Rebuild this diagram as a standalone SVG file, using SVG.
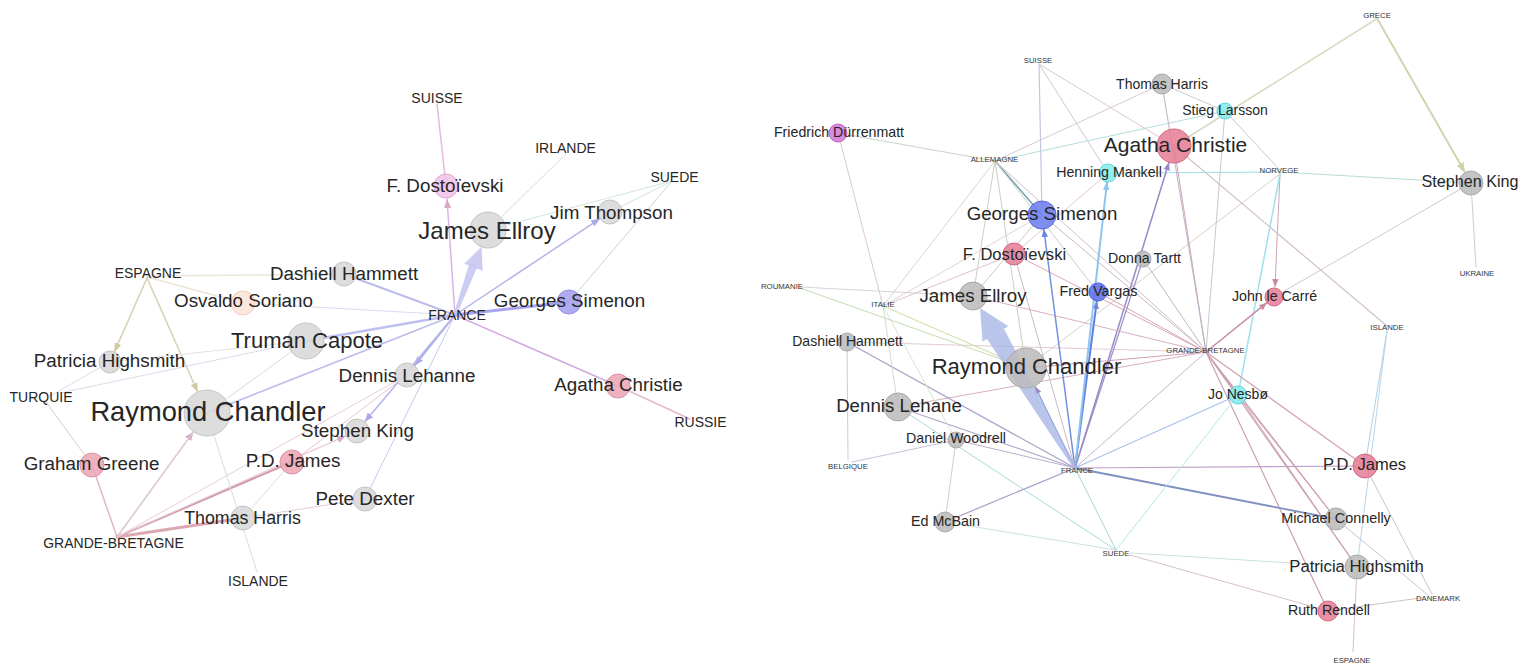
<svg xmlns="http://www.w3.org/2000/svg" width="1536" height="666" viewBox="0 0 1536 666">
<style>
text{font-family:"Liberation Sans",Arial,sans-serif;fill:#262626;text-anchor:middle;dominant-baseline:central}
.c1{font-size:14px}
.c2{font-size:7.8px;fill:#333}
.l19{font-size:18.8px}
.e line{fill:none;stroke-linecap:round}
.g1{fill:#d9d9d9;stroke:#c4c4c4;stroke-width:1;fill-opacity:.9}
.g2{fill:#bcbcbc;stroke:#a9a9a9;stroke-width:1;fill-opacity:.88}
.pk1{fill:#eca9b6;stroke:#dc94a4;fill-opacity:.9}
.pk2{fill:#e57f97;stroke:#cf6a82;fill-opacity:.88}
.cy{fill:#86ecec;stroke:#5fd6e0;fill-opacity:.88}
</style>
<defs>
<marker id="mLav" viewBox="0 0 10 10" refX="10" refY="5" markerWidth="9" markerHeight="9" markerUnits="userSpaceOnUse" orient="auto"><path d="M0,1 L10,5 L0,9 z" fill="#aaaaea"/></marker>
<marker id="mPink" viewBox="0 0 10 10" refX="10" refY="5" markerWidth="9" markerHeight="9" markerUnits="userSpaceOnUse" orient="auto"><path d="M0,1 L10,5 L0,9 z" fill="#d8a8c4"/></marker>
<marker id="mBeige" viewBox="0 0 10 10" refX="10" refY="5" markerWidth="9" markerHeight="9" markerUnits="userSpaceOnUse" orient="auto"><path d="M0,1 L10,5 L0,9 z" fill="#d2c8a2"/></marker>
<marker id="mBlue" viewBox="0 0 10 10" refX="10" refY="5" markerWidth="8" markerHeight="8" markerUnits="userSpaceOnUse" orient="auto"><path d="M0,1 L10,5 L0,9 z" fill="#6a86e0"/></marker>
<marker id="mLBlue" viewBox="0 0 10 10" refX="10" refY="5" markerWidth="8" markerHeight="8" markerUnits="userSpaceOnUse" orient="auto"><path d="M0,1 L10,5 L0,9 z" fill="#8ec4f0"/></marker>
<marker id="mPurp" viewBox="0 0 10 10" refX="10" refY="5" markerWidth="8" markerHeight="8" markerUnits="userSpaceOnUse" orient="auto"><path d="M0,1 L10,5 L0,9 z" fill="#9a88c8"/></marker>
<marker id="mRose" viewBox="0 0 10 10" refX="10" refY="5" markerWidth="8" markerHeight="8" markerUnits="userSpaceOnUse" orient="auto"><path d="M0,1 L10,5 L0,9 z" fill="#c88ca0"/></marker>
<marker id="mGreen" viewBox="0 0 10 10" refX="10" refY="5" markerWidth="10" markerHeight="10" markerUnits="userSpaceOnUse" orient="auto"><path d="M0,1 L10,5 L0,9 z" fill="#cdd4a8"/></marker>
</defs>
<rect width="1536" height="666" fill="#ffffff"/>

<g id="connectors" class="e">
<!-- LEFT GRAPH -->
<line x1="437" y1="104" x2="446" y2="186" stroke="#e8b8e0" stroke-width="1.5"/>
<line x1="455" y1="315" x2="447" y2="199" stroke="#d8b4e8" stroke-width="1.5" marker-end="url(#mPink)"/>
<line x1="566" y1="154" x2="488" y2="230" stroke="#d8dcdc" stroke-width="1"/>
<line x1="672" y1="181" x2="488" y2="230" stroke="#cfe6de" stroke-width="1"/>
<line x1="672" y1="181" x2="610" y2="212" stroke="#cfe6de" stroke-width="1"/>
<line x1="672" y1="181" x2="569" y2="302" stroke="#d0d0e4" stroke-width="1"/>
<line x1="455" y1="315" x2="600" y2="218.6" stroke="#b4b4ea" stroke-width="1.5" marker-end="url(#mLav)"/>
<line x1="455" y1="315" x2="569" y2="302" stroke="#a8a4ee" stroke-width="3"/>
<line x1="455" y1="315" x2="344" y2="274" stroke="#bcbcec" stroke-width="2"/>
<line x1="455" y1="315" x2="243" y2="303" stroke="#dcdcf0" stroke-width="1"/>
<line x1="455" y1="315" x2="306" y2="341" stroke="#c0c0f0" stroke-width="2.5"/>
<line x1="455" y1="315" x2="207" y2="413" stroke="#bcbcec" stroke-width="1.5"/>
<line x1="455" y1="315" x2="414.5" y2="365.6" stroke="#b0b0ec" stroke-width="2" marker-end="url(#mLav)"/>
<line x1="455" y1="315" x2="364.7" y2="421.8" stroke="#b4b4ec" stroke-width="1.5" marker-end="url(#mLav)"/>
<line x1="455" y1="315" x2="365" y2="499" stroke="#c8c8f0" stroke-width="1"/>
<line x1="455" y1="315" x2="618" y2="386" stroke="#d0a8e0" stroke-width="1.5"/>
<line x1="618" y1="386" x2="690" y2="419" stroke="#e4b8cc" stroke-width="1.5"/>
<line x1="147" y1="276" x2="344" y2="274" stroke="#ebe6d8" stroke-width="1.5"/>
<line x1="147" y1="277" x2="243" y2="303" stroke="#ebe3d4" stroke-width="1.5"/>
<line x1="147" y1="278" x2="114.4" y2="351.9" stroke="#d8d0b0" stroke-width="1.5" marker-end="url(#mBeige)"/>
<line x1="147" y1="278" x2="197.7" y2="392" stroke="#d8d0b0" stroke-width="1.5" marker-end="url(#mBeige)"/>
<line x1="110" y1="362" x2="306" y2="341" stroke="#e4e0e4" stroke-width="1"/>
<line x1="60" y1="393" x2="306" y2="341" stroke="#dcdcec" stroke-width="1"/>
<line x1="50" y1="396" x2="110" y2="362" stroke="#e4dce4" stroke-width="1"/>
<line x1="46" y1="402" x2="92" y2="465" stroke="#e0c8d0" stroke-width="1"/>
<line x1="92" y1="465" x2="117" y2="537" stroke="#e0b8c4" stroke-width="1.5"/>
<line x1="117" y1="537" x2="193.5" y2="431.6" stroke="#dcb0c0" stroke-width="1.5" marker-end="url(#mPink)"/>
<line x1="207" y1="413" x2="117" y2="537" stroke="#dcdcdc" stroke-width="1"/>
<line x1="117" y1="537" x2="292" y2="462" stroke="#d098a8" stroke-width="2"/>
<line x1="117" y1="537" x2="243" y2="518" stroke="#dca8b4" stroke-width="3"/>
<line x1="117" y1="537" x2="346" y2="435.8" stroke="#e4c4d0" stroke-width="1.2" marker-end="url(#mPink)"/>
<line x1="117" y1="537" x2="407" y2="375" stroke="#e8ccd8" stroke-width="1"/>
<line x1="207" y1="413" x2="257" y2="572" stroke="#dcdcdc" stroke-width="1"/>
<line x1="306" y1="341" x2="207" y2="413" stroke="#dcdcdc" stroke-width="1"/>
<line x1="243" y1="518" x2="292" y2="462" stroke="#dcdcdc" stroke-width="1"/>
<line x1="243" y1="518" x2="365" y2="499" stroke="#e4ccd4" stroke-width="1"/>
<line x1="292" y1="462" x2="407" y2="375" stroke="#e4c4d4" stroke-width="1"/>
<polygon points="453.6,314.5 456.4,315.5 477.6,266.3 469.4,263.2" fill="#c4c4f0" fill-opacity=".85"/>
<polygon points="481.5,246.8 464.2,263.7 482.8,270.9" fill="#c4c4f0" fill-opacity=".85"/>

<!-- RIGHT GRAPH -->
<line x1="1378" y1="18" x2="1174" y2="146" stroke="#d6dcc0" stroke-width="1.5"/>
<line x1="1378" y1="20" x2="1465" y2="172.6" stroke="#d0d6b0" stroke-width="2" marker-end="url(#mGreen)"/>
<line x1="1039" y1="64" x2="1042" y2="215" stroke="#c4c4e4" stroke-width="1.2"/>
<line x1="1039" y1="64" x2="1108" y2="173" stroke="#ccc8d8" stroke-width="1"/>
<line x1="1039" y1="64" x2="1174" y2="146" stroke="#dcc8d2" stroke-width="1"/>
<line x1="995" y1="161" x2="838" y2="133" stroke="#cad4cc" stroke-width="1.2"/>
<line x1="995" y1="161" x2="1162" y2="84" stroke="#d8c8d4" stroke-width="1"/>
<line x1="995" y1="161" x2="1225" y2="111" stroke="#b4dede" stroke-width="1"/>
<line x1="995" y1="161" x2="1042" y2="215" stroke="#6fa0a4" stroke-width="1.5"/>
<line x1="995" y1="161" x2="883" y2="306" stroke="#d0dcc8" stroke-width="1"/>
<line x1="995" y1="161" x2="973" y2="296" stroke="#c8d0c8" stroke-width="1"/>
<line x1="995" y1="161" x2="1026" y2="368" stroke="#c8d0c0" stroke-width="1"/>
<line x1="995" y1="161" x2="1098" y2="292" stroke="#c8ccd8" stroke-width="1"/>
<line x1="995" y1="161" x2="1206" y2="352" stroke="#d0bcc8" stroke-width="1"/>
<line x1="838" y1="133" x2="883" y2="306" stroke="#e0c8cc" stroke-width="1"/>
<line x1="1280" y1="172" x2="1108" y2="173" stroke="#a8e4f0" stroke-width="1.2"/>
<line x1="1280" y1="172" x2="1471" y2="183" stroke="#b8dcd8" stroke-width="1.2"/>
<line x1="1280" y1="174" x2="1275" y2="287" stroke="#c8a8b8" stroke-width="1" marker-end="url(#mRose)"/>
<line x1="1280" y1="174" x2="1238" y2="395" stroke="#a0e0f0" stroke-width="1.5"/>
<line x1="1280" y1="174" x2="1026" y2="368" stroke="#d8d0c8" stroke-width="1"/>
<line x1="1471" y1="183" x2="1476" y2="267" stroke="#cccccc" stroke-width="1"/>
<line x1="1471" y1="183" x2="1274" y2="297" stroke="#d0c8d0" stroke-width="1"/>
<line x1="1174" y1="146" x2="1387" y2="326" stroke="#d4c0cc" stroke-width="1.2"/>
<line x1="1174" y1="146" x2="1206" y2="352" stroke="#c8a8b8" stroke-width="1"/>
<line x1="1075" y1="468" x2="1169" y2="162.3" stroke="#9a88c8" stroke-width="1.5" marker-end="url(#mPurp)"/>
<line x1="1162" y1="84" x2="1225" y2="111" stroke="#cccccc" stroke-width="1"/>
<line x1="1162" y1="84" x2="1206" y2="352" stroke="#c0b0c8" stroke-width="1"/>
<line x1="1225" y1="111" x2="1206" y2="352" stroke="#c8c8d0" stroke-width="1"/>
<line x1="1225" y1="111" x2="1280" y2="170" stroke="#cfc8d0" stroke-width="1"/>
<line x1="1206" y1="352" x2="1267" y2="302.7" stroke="#c88ca0" stroke-width="1.5" marker-end="url(#mRose)"/>
<line x1="1206" y1="352" x2="1238" y2="395" stroke="#c88ca0" stroke-width="1.2"/>
<line x1="1206" y1="352" x2="1365" y2="466" stroke="#d0a0b0" stroke-width="1.2"/>
<line x1="1206" y1="352" x2="1336" y2="519" stroke="#c8a0b4" stroke-width="1.2"/>
<line x1="1206" y1="352" x2="1357" y2="567" stroke="#c8a0b4" stroke-width="1.2"/>
<line x1="1206" y1="352" x2="1328" y2="611" stroke="#c8a0b4" stroke-width="1.2"/>
<line x1="1206" y1="352" x2="1026" y2="368" stroke="#d0a0b4" stroke-width="1.2"/>
<line x1="1206" y1="352" x2="973" y2="296" stroke="#d8b0c0" stroke-width="1"/>
<line x1="1206" y1="352" x2="1014" y2="254" stroke="#d8a8b8" stroke-width="1"/>
<line x1="1206" y1="352" x2="1143" y2="259" stroke="#c0b8c0" stroke-width="1"/>
<line x1="1206" y1="352" x2="1098" y2="292" stroke="#d8a8b8" stroke-width="1"/>
<line x1="1206" y1="352" x2="1075" y2="468" stroke="#c0b8d0" stroke-width="1"/>
<line x1="1206" y1="352" x2="898" y2="407" stroke="#d8b0c0" stroke-width="1"/>
<line x1="1206" y1="352" x2="847" y2="342" stroke="#e0ccd4" stroke-width="1"/>
<line x1="1042" y1="215" x2="1206" y2="352" stroke="#c8b8c8" stroke-width="1"/>
<line x1="1075" y1="468" x2="1043.8" y2="229" stroke="#7090e0" stroke-width="1.5" marker-end="url(#mBlue)"/>
<line x1="1075" y1="468" x2="1096.8" y2="301" stroke="#6080e0" stroke-width="2" marker-end="url(#mBlue)"/>
<line x1="1075" y1="468" x2="1107" y2="182" stroke="#8ec4f0" stroke-width="2" marker-end="url(#mLBlue)"/>
<line x1="1075" y1="468" x2="1034.8" y2="386" stroke="#8898d0" stroke-width="1.2" marker-end="url(#mPurp)"/>
<line x1="1075" y1="468" x2="847" y2="342" stroke="#a8a0c8" stroke-width="1.2"/>
<line x1="1075" y1="468" x2="898" y2="407" stroke="#b0a8cc" stroke-width="1.2"/>
<line x1="1075" y1="468" x2="956" y2="440" stroke="#b8b0cc" stroke-width="1"/>
<line x1="1075" y1="468" x2="945" y2="522" stroke="#a8a0c8" stroke-width="1.2"/>
<line x1="1075" y1="468" x2="1365" y2="466" stroke="#c0a0c8" stroke-width="1.2"/>
<line x1="1075" y1="468" x2="1336" y2="519" stroke="#8090c0" stroke-width="1.8"/>
<line x1="1075" y1="468" x2="1238" y2="395" stroke="#a8c0e8" stroke-width="1.2"/>
<line x1="1075" y1="468" x2="1116" y2="550" stroke="#a8d4d4" stroke-width="1"/>
<line x1="1075" y1="468" x2="1143" y2="259" stroke="#a090c8" stroke-width="1.2"/>
<line x1="1075" y1="468" x2="1014" y2="254" stroke="#d0b8c8" stroke-width="1"/>
<line x1="1116" y1="550" x2="945" y2="522" stroke="#c8e4e0" stroke-width="1"/>
<line x1="898" y1="407" x2="1116" y2="550" stroke="#a8d8d8" stroke-width="1"/>
<line x1="1116" y1="550" x2="1238" y2="395" stroke="#b0e8f0" stroke-width="1"/>
<line x1="1130" y1="553" x2="1357" y2="567" stroke="#c8e0e0" stroke-width="1"/>
<line x1="1130" y1="555" x2="1328" y2="611" stroke="#d8c0cc" stroke-width="1"/>
<line x1="1238" y1="395" x2="1336" y2="519" stroke="#d0a0b0" stroke-width="1"/>
<line x1="1238" y1="395" x2="1357" y2="567" stroke="#d0a0b0" stroke-width="1"/>
<line x1="1387" y1="331" x2="1365" y2="466" stroke="#b0d0e8" stroke-width="1"/>
<line x1="1387" y1="331" x2="1357" y2="567" stroke="#b8d4e8" stroke-width="1"/>
<line x1="1432" y1="594" x2="1365" y2="466" stroke="#d0c0cc" stroke-width="1"/>
<line x1="1428" y1="595" x2="1336" y2="519" stroke="#d0c0cc" stroke-width="1"/>
<line x1="1420" y1="598" x2="1328" y2="611" stroke="#d0c0cc" stroke-width="1"/>
<line x1="1353" y1="652" x2="1357" y2="567" stroke="#dcc0cc" stroke-width="1"/>
<line x1="800" y1="288" x2="1026" y2="368" stroke="#c4dcb4" stroke-width="1"/>
<line x1="800" y1="287" x2="973" y2="296" stroke="#d4d4d4" stroke-width="1"/>
<line x1="883" y1="306" x2="1026" y2="368" stroke="#d8e0b0" stroke-width="1.2"/>
<line x1="883" y1="306" x2="898" y2="407" stroke="#d0dcc8" stroke-width="1"/>
<line x1="883" y1="306" x2="956" y2="440" stroke="#d8e4d0" stroke-width="1"/>
<line x1="883" y1="306" x2="1014" y2="254" stroke="#e0c0cc" stroke-width="1"/>
<line x1="883" y1="306" x2="1042" y2="215" stroke="#e0d0d8" stroke-width="1"/>
<line x1="847" y1="342" x2="848" y2="460" stroke="#d8c8d0" stroke-width="1"/>
<line x1="852" y1="462" x2="956" y2="440" stroke="#c8c0d8" stroke-width="1"/>
<line x1="956" y1="440" x2="945" y2="522" stroke="#d0d0d8" stroke-width="1"/>
<line x1="1042" y1="215" x2="973" y2="296" stroke="#c8c8c8" stroke-width="1"/>
<line x1="1108" y1="173" x2="1014" y2="254" stroke="#e8c8c0" stroke-width="1"/>
<polygon points="1073.7,468.8 1076.3,467.2 1003.9,328.8 986.9,338.8" fill="#a8b6e6" fill-opacity=".8"/>
<polygon points="980.1,308 1008.3,326.2 982.5,341.5" fill="#a8b6e6" fill-opacity=".8"/>
</g>

<!-- LEFT NODES -->
<g id="L-suisse"><text class="c1" x="437" y="98">SUISSE</text></g>
<g id="L-irlande"><text class="c1" x="565.5" y="148">IRLANDE</text></g>
<g id="L-suede"><text class="c1" x="674.5" y="176.7">SUEDE</text></g>
<g id="L-espagne"><text class="c1" x="148" y="273">ESPAGNE</text></g>
<g id="L-france"><text class="c1" x="457" y="314.5">FRANCE</text></g>
<g id="L-turquie"><text class="c1" x="41" y="396.7">TURQUIE</text></g>
<g id="L-russie"><text class="c1" x="700.5" y="422">RUSSIE</text></g>
<g id="L-gb"><text class="c1" x="113.5" y="543">GRANDE-BRETAGNE</text></g>
<g id="L-islande"><text class="c1" x="258" y="580.7">ISLANDE</text></g>

<g id="L-dostoievski"><circle cx="446" cy="186" r="12" fill="#f2c4e8" stroke="#e0a8d4" fill-opacity=".9"/><text class="l19" x="445" y="185">F. Dostoïevski</text></g>
<g id="L-ellroy"><circle class="g1" cx="488" cy="230" r="18"/><text x="487" y="230" style="font-size:24px">James Ellroy</text></g>
<g id="L-thompson"><circle class="g1" cx="610" cy="212" r="12"/><text class="l19" x="611.5" y="212">Jim Thompson</text></g>
<g id="L-simenon"><circle cx="569" cy="302" r="12" fill="#a7a3ef" stroke="#9490e0" fill-opacity=".9"/><text class="l19" x="569.5" y="300">Georges Simenon</text></g>
<g id="L-hammett"><circle class="g1" cx="344" cy="274" r="12"/><text class="l19" x="344" y="273">Dashiell Hammett</text></g>
<g id="L-soriano"><circle cx="243" cy="303" r="12" fill="#fde4d8" stroke="#f0cdbd" fill-opacity=".9"/><text class="l19" x="243.5" y="300.7">Osvaldo Soriano</text></g>
<g id="L-capote"><circle class="g1" cx="306" cy="341" r="18"/><text x="307" y="340" style="font-size:22px">Truman Capote</text></g>
<g id="L-highsmith"><circle class="g1" cx="110" cy="362" r="11"/><text class="l19" x="109.5" y="360.7">Patricia Highsmith</text></g>
<g id="L-lehanne"><circle class="g1" cx="407" cy="375" r="12"/><text class="l19" x="407" y="375">Dennis Lehanne</text></g>
<g id="L-chandler"><circle class="g1" cx="207" cy="413" r="23"/><text x="208" y="411" style="font-size:27.3px">Raymond Chandler</text></g>
<g id="L-king"><circle class="g1" cx="357" cy="431" r="12"/><text class="l19" x="357.5" y="430">Stephen King</text></g>
<g id="L-greene"><circle class="pk1" cx="92" cy="465" r="12"/><text class="l19" x="91.5" y="463">Graham Greene</text></g>
<g id="L-pdjames"><circle class="pk1" cx="292" cy="462" r="12"/><text class="l19" x="293" y="460.7">P.D. James</text></g>
<g id="L-dexter"><circle class="g1" cx="365" cy="499" r="12"/><text class="l19" x="365" y="498">Pete Dexter</text></g>
<g id="L-harris"><circle class="g1" cx="243" cy="518" r="12"/><text x="242.5" y="517.7" style="font-size:17.8px">Thomas Harris</text></g>
<g id="L-christie"><circle class="pk1" cx="618" cy="386" r="12"/><text class="l19" x="618.5" y="384">Agatha Christie</text></g>

<!-- RIGHT NODES -->
<g id="R-grece"><text class="c2" x="1377" y="15">GRECE</text></g>
<g id="R-suisse"><text class="c2" x="1038" y="60">SUISSE</text></g>
<g id="R-allemagne"><text class="c2" x="994.5" y="159">ALLEMAGNE</text></g>
<g id="R-norvege"><text class="c2" x="1279" y="170">NORVEGE</text></g>
<g id="R-roumanie"><text class="c2" x="782" y="286">ROUMANIE</text></g>
<g id="R-italie"><text class="c2" x="883" y="304">ITALIE</text></g>
<g id="R-ukraine"><text class="c2" x="1477" y="273">UKRAINE</text></g>
<g id="R-islande"><text class="c2" x="1387" y="327">ISLANDE</text></g>
<g id="R-gb"><text class="c2" x="1205.5" y="350">GRANDE-BRETAGNE</text></g>
<g id="R-belgique"><text class="c2" x="848" y="466">BELGIQUE</text></g>
<g id="R-france"><text class="c2" x="1077" y="470">FRANCE</text></g>
<g id="R-suede"><text class="c2" x="1116" y="553">SUEDE</text></g>
<g id="R-danemark"><text class="c2" x="1438" y="598">DANEMARK</text></g>
<g id="R-espagne"><text class="c2" x="1352" y="660">ESPAGNE</text></g>

<g id="R-harris"><circle class="g2" cx="1162" cy="84" r="10"/><text x="1162" y="84" style="font-size:14px">Thomas Harris</text></g>
<g id="R-larsson"><circle class="cy" cx="1225" cy="111" r="8"/><text x="1225" y="110" style="font-size:14px">Stieg Larsson</text></g>
<g id="R-christie"><circle class="pk2" cx="1174" cy="146" r="17"/><text x="1175.5" y="144" style="font-size:21px">Agatha Christie</text></g>
<g id="R-king"><circle class="g2" cx="1471" cy="183" r="12"/><text x="1470" y="181" style="font-size:16.2px">Stephen King</text></g>
<g id="R-durrenmatt"><circle cx="838" cy="133" r="9" fill="#d57ad9" stroke="#c060c8" fill-opacity=".88"/><text x="839" y="132" style="font-size:14.2px">Friedrich Dürrenmatt</text></g>
<g id="R-mankell"><circle class="cy" cx="1108" cy="173" r="9"/><text x="1109" y="172" style="font-size:14.2px">Henning Mankell</text></g>
<g id="R-simenon"><circle cx="1042" cy="215" r="14" fill="#6e7ff0" stroke="#5a6be0" fill-opacity=".88"/><text x="1042" y="213" style="font-size:18.7px">Georges Simenon</text></g>
<g id="R-dostoievski"><circle class="pk2" cx="1014" cy="254" r="11"/><text x="1014.5" y="254" style="font-size:16.6px">F. Dostoïevski</text></g>
<g id="R-tartt"><circle class="g2" cx="1143" cy="259" r="8"/><text x="1144.5" y="258" style="font-size:14.2px">Donna Tartt</text></g>
<g id="R-vargas"><circle cx="1098" cy="292" r="9" fill="#5f6fe8" stroke="#4c5cd8" fill-opacity=".88"/><text x="1098.5" y="291" style="font-size:14.4px">Fred Vargas</text></g>
<g id="R-ellroy"><circle class="g2" cx="973" cy="296" r="14"/><text x="973" y="295" style="font-size:18.7px">James Ellroy</text></g>
<g id="R-lecarre"><circle class="pk2" cx="1274" cy="297" r="9"/><text x="1274.5" y="296" style="font-size:14.2px">John le Carré</text></g>
<g id="R-hammett"><circle class="g2" cx="847" cy="342" r="9"/><text x="847.5" y="341" style="font-size:14px">Dashiell Hammett</text></g>
<g id="R-chandler"><circle class="g2" cx="1026" cy="368" r="20"/><text x="1026.5" y="366" style="font-size:22px">Raymond Chandler</text></g>
<g id="R-nesbo"><circle class="cy" cx="1238" cy="395" r="9"/><text x="1238" y="394" style="font-size:14px">Jo Nesbø</text></g>
<g id="R-lehane"><circle class="g2" cx="898" cy="407" r="14"/><text x="899" y="405" style="font-size:18.7px">Dennis Lehane</text></g>
<g id="R-woodrell"><circle class="g2" cx="956" cy="440" r="8"/><text x="956" y="438" style="font-size:14.2px">Daniel Woodrell</text></g>
<g id="R-pdjames"><circle class="pk2" cx="1365" cy="466" r="12"/><text x="1364.5" y="464" style="font-size:16.5px">P.D. James</text></g>
<g id="R-connelly"><circle class="g2" cx="1336" cy="519" r="11"/><text x="1336" y="518" style="font-size:14.4px">Michael Connelly</text></g>
<g id="R-mcbain"><circle class="g2" cx="945" cy="522" r="10"/><text x="945.5" y="521" style="font-size:14.3px">Ed McBain</text></g>
<g id="R-highsmith"><circle class="g2" cx="1357" cy="567" r="12"/><text x="1356.5" y="566" style="font-size:16.7px">Patricia Highsmith</text></g>
<g id="R-rendell"><circle class="pk2" cx="1328" cy="611" r="10"/><text x="1329" y="610" style="font-size:14.2px">Ruth Rendell</text></g>
</svg>
